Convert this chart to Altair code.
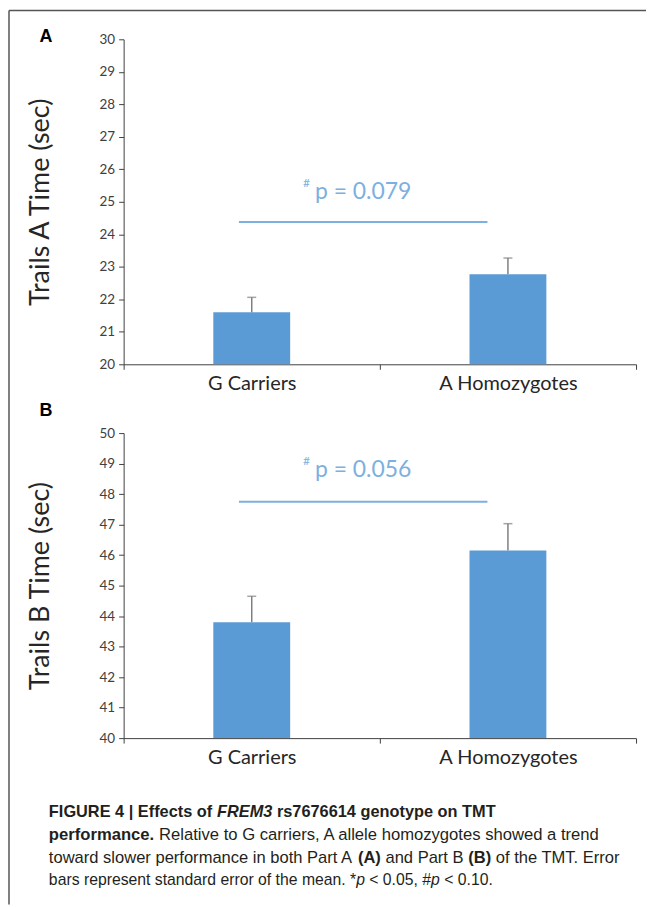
import altair as alt
import pandas as pd

# ---------------- data ----------------
groups = ["G Carriers", "A Homozygotes"]

trailsA_mean = [21.6, 22.77]
trailsA_se = [0.46, 0.50]
trailsB_mean = [43.8, 46.15]
trailsB_se = [0.85, 0.88]

axisA_domain = [20, 30]
axisB_domain = [40, 50]
ticksA = list(range(20, 31))
ticksB = list(range(40, 51))

sig_labels = ["p = 0.079", "p = 0.056"]
sig_line_y = [24.38, 47.75]
sig_text_y = [25.3, 48.8]

panel_labels = ["A", "B"]
y_titles = ["Trails A Time (sec)", "Trails B Time (sec)"]

caption_lines = [
    [("FIGURE 4 | Effects of ", "bold", "normal"), ("FREM3", "bold", "italic"),
     (" rs7676614 genotype on TMT", "bold", "normal")],
    [("performance.", "bold", "normal"),
     (" Relative to G carriers, A allele homozygotes showed a trend", "normal", "normal")],
    [("toward slower performance in both Part A ", "normal", "normal"), ("(A)", "bold", "normal"),
     (" and Part B ", "normal", "normal"), ("(B)", "bold", "normal"),
     (" of the TMT. Error", "normal", "normal")],
    [("bars represent standard error of the mean. *", "normal", "normal"), ("p", "normal", "italic"),
     (" < 0.05, ", "normal", "normal"), ("#", "normal", "normal"), ("p", "normal", "italic"),
     (" < 0.10.", "normal", "normal")],
]

# ---------------- style / layout ----------------
W = 514
HA = 326
HB = 306
BAR = "#5b9bd5"
SIG = "#7cb0e0"
ERR = "#7f7f7f"
AX = "#404040"
TXT = "#262626"
FONT = "Lato"

CAP_FONT = "Liberation Sans"
CAP_SIZES = [16.4, 16.7, 16.6, 15.8]
CAP_X0 = -75
CAP_Y = [380, 403, 426, 448]   # relative to panel B plot top

REG = {' ': 278, '#': 556, '(': 333, ')': 333, '*': 389, ',': 278, '.': 278, '<': 584, '|': 260,
       'A': 667, 'B': 667, 'C': 722, 'E': 667, 'G': 778, 'P': 667, 'R': 722, 'T': 611, 'M': 833,
       'a': 556, 'b': 556, 'c': 500, 'd': 556, 'e': 556, 'f': 278, 'g': 556, 'h': 556, 'i': 222,
       'j': 222, 'k': 500, 'l': 222, 'm': 833, 'n': 556, 'o': 556, 'p': 556, 'q': 556, 'r': 333,
       's': 500, 't': 278, 'u': 556, 'v': 500, 'w': 722, 'x': 500, 'y': 500, 'z': 500}
BOLD = {' ': 278, '|': 280, '(': 333, ')': 333, '.': 278,
        'A': 722, 'B': 722, 'E': 667, 'F': 611, 'G': 778, 'I': 278, 'M': 833, 'R': 722, 'T': 611,
        'U': 722, 'a': 556, 'b': 611, 'c': 556, 'd': 611, 'e': 556, 'f': 333, 'g': 611, 'h': 611,
        'i': 278, 'l': 278, 'm': 889, 'n': 611, 'o': 611, 'p': 611, 'r': 389, 's': 556, 't': 333,
        'u': 611, 'y': 556}


def tw(s, weight, size):
    table = BOLD if weight == "bold" else REG
    return sum(table.get(c, 556) for c in s) / 1000.0 * size


def caption_marks():
    marks = []
    for li, segs in enumerate(caption_lines):
        size = CAP_SIZES[li]
        x = CAP_X0
        for text, weight, style in segs:
            lead = len(text) - len(text.lstrip(" "))
            xs = x + tw(" " * lead, weight, size)
            d = pd.DataFrame({"text": [text.strip(" ")]})
            marks.append(
                alt.Chart(d).mark_text(font=CAP_FONT, fontSize=size, fontWeight=weight,
                                       fontStyle=style, color="#231f20", align="left",
                                       baseline="middle").encode(
                    x=alt.value(xs), y=alt.value(CAP_Y[li]), text="text:N"))
            x += tw(text, weight, size)
    return marks


def panel(i, means, ses, domain, ticks, H, frame=False, caption=False):
    df = pd.DataFrame({"group": groups, "mean": means,
                       "top": [m + s for m, s in zip(means, ses)],
                       "base": [domain[0]] * 2})
    yscale = alt.Scale(domain=domain, zero=False, nice=False)
    yaxis = alt.Axis(values=ticks, grid=False, domainColor=AX, domainWidth=1, tickColor=AX,
                     tickSize=5, labelFont=FONT, labelFontSize=13.5, labelColor=AX, labelPadding=4,
                     title=y_titles[i], titleFont=FONT, titleFontSize=27, titleFontWeight="normal",
                     titleColor=TXT, titleAngle=270, titleAlign="center", titleBaseline="middle",
                     titleX=-83, titleY=H / 2)
    xaxis = alt.Axis(title=None, labelAngle=0, domainColor=AX, domainWidth=1, tickColor=AX,
                     tickSize=5, tickBand="extent", labelFont=FONT, labelFontSize=20,
                     labelColor=TXT, labelPadding=4, grid=False)
    xenc = alt.X("group:N", sort=groups, scale=alt.Scale(paddingInner=0, paddingOuter=0), axis=xaxis)

    def yenc(f):
        return alt.Y(f, type="quantitative", scale=yscale, axis=yaxis)

    base = alt.Chart(df)
    bars = base.mark_bar(color=BAR, width={"band": 0.3}).encode(x=xenc, y=yenc("mean"), y2="base")
    err = base.mark_rule(color=ERR, strokeWidth=1.5).encode(x=xenc, y=yenc("mean"), y2="top")
    cap = base.mark_tick(color=ERR, thickness=1.5, size=9).encode(x=xenc, y=yenc("top"))

    step = W / 2
    x1, x2 = step * 0.45, step + step * 0.42
    cx = (x1 + x2) / 2
    sdf = pd.DataFrame({"ly": [sig_line_y[i]], "ty": [sig_text_y[i]], "label": [sig_labels[i]],
                        "hash": ["#"], "panel": [panel_labels[i]]})
    sbase = alt.Chart(sdf)
    sline = sbase.mark_rule(color=SIG, strokeWidth=2).encode(
        x=alt.value(x1), x2=alt.value(x2), y=yenc("ly"))
    stext = sbase.mark_text(font=FONT, fontSize=23, color=SIG, align="center",
                            baseline="middle").encode(x=alt.value(cx), y=yenc("ty"), text="label")
    shash = sbase.mark_text(font=FONT, fontSize=12, color=SIG, align="center",
                            baseline="middle", dy=-9).encode(x=alt.value(cx - 57), y=yenc("ty"), text="hash")
    plab = sbase.mark_text(font="Liberation Sans", fontSize=18, fontWeight="bold", color="#000000",
                           align="center", baseline="middle").encode(
        x=alt.value(-78), y=alt.value(-2 if i == 0 else -22), text="panel")
    layers = [bars, err, cap, sline, stext, shash, plab]
    if frame:
        top = sbase.mark_rule(color="#555555", strokeWidth=1.5).encode(
            x=alt.value(-115), x2=alt.value(524), y=alt.value(-29))
        left = sbase.mark_rule(color="#555555", strokeWidth=1.5).encode(
            x=alt.value(-115), y=alt.value(-29), y2=alt.value(868))
        layers += [top, left]
    if caption:
        layers += caption_marks()
    return alt.layer(*layers).properties(width=W, height=H)


pA = panel(0, trailsA_mean, trailsA_se, axisA_domain, ticksA, HA, frame=True)
pB = panel(1, trailsB_mean, trailsB_se, axisB_domain, ticksB, HB, caption=True)

chart = alt.vconcat(pA, pB, spacing=69, bounds="flush").properties(
    padding=0, background="white"
).configure_view(stroke=None)

chart.save("out.html", embed_options={"renderer": "svg", "actions": False})
